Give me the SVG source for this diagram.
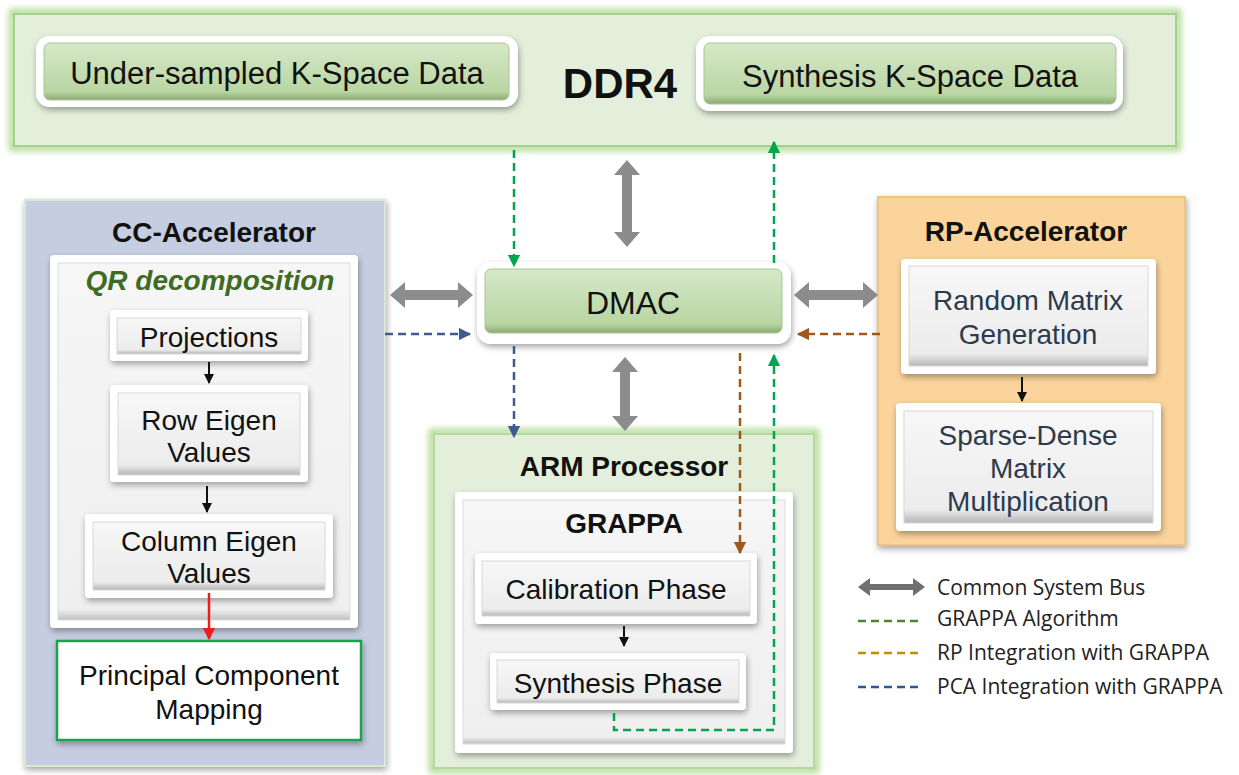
<svg xmlns="http://www.w3.org/2000/svg" width="1239" height="775" viewBox="0 0 1239 775">
<defs>
<filter id="glow" x="-5%" y="-10%" width="110%" height="120%"><feGaussianBlur stdDeviation="3"/></filter>
<filter id="shadow" x="-10%" y="-10%" width="120%" height="130%"><feDropShadow dx="1" dy="3" stdDeviation="3" flood-color="#000" flood-opacity="0.35"/></filter>
<linearGradient id="gbtn" x1="0" y1="0" x2="0" y2="1"><stop offset="0" stop-color="#d6e8c8"/><stop offset="0.85" stop-color="#b9d6a3"/><stop offset="1" stop-color="#8aab74"/></linearGradient>
<linearGradient id="wbtn" x1="0" y1="0" x2="0" y2="1"><stop offset="0" stop-color="#f7f7f7"/><stop offset="0.88" stop-color="#ececec"/><stop offset="1" stop-color="#b5b5b5"/></linearGradient>
<linearGradient id="wpanel" x1="0" y1="0" x2="0" y2="1"><stop offset="0" stop-color="#f6f6f6"/><stop offset="0.97" stop-color="#efefef"/><stop offset="1" stop-color="#c0c0c0"/></linearGradient>
<marker id="ah-green" viewBox="0 0 10 10" refX="9" refY="5" markerWidth="5" markerHeight="5" orient="auto"><path d="M0,0 L10,5 L0,10 z" fill="#00a64f"/></marker>
<marker id="ah-blue" viewBox="0 0 10 10" refX="9" refY="5" markerWidth="5" markerHeight="5" orient="auto"><path d="M0,0 L10,5 L0,10 z" fill="#3e5a8e"/></marker>
<marker id="ah-brown" viewBox="0 0 10 10" refX="9" refY="5" markerWidth="5" markerHeight="5" orient="auto"><path d="M0,0 L10,5 L0,10 z" fill="#a0581a"/></marker>
<marker id="ah-black" viewBox="0 0 10 10" refX="9" refY="5" markerWidth="5" markerHeight="5" orient="auto"><path d="M0,0 L10,5 L0,10 z" fill="#111"/></marker>
<marker id="ah-red" viewBox="0 0 10 10" refX="9" refY="5" markerWidth="5" markerHeight="5" orient="auto"><path d="M0,0 L10,5 L0,10 z" fill="#ee1c1c"/></marker>
<style>
text{font-family:"Liberation Sans",Arial,sans-serif;fill:#111;text-anchor:middle}
.ttl{font-weight:bold;font-size:28px}
.lbl{font-size:28px}
.dk{fill:#2e3a4c}
.leg{font-family:"Open Sans","Noto Sans",sans-serif;font-size:21px;text-anchor:start;fill:#222}
.wout{fill:#fff;filter:url(#shadow)}
.gin{fill:url(#gbtn);stroke:#a6c592;stroke-width:1}
.win{fill:url(#wbtn);stroke:#d8d8d8;stroke-width:1}
.dash{fill:none;stroke-width:2.5;stroke-dasharray:8,5}
.bus{fill:#8c8c8c}
</style>
</defs>

<!-- DDR4 -->
<g id="ddr4">
<rect x="12" y="12" width="1166" height="136" fill="none" stroke="#a9d98a" stroke-width="6" filter="url(#glow)"/>
<rect x="14" y="14" width="1162" height="132" fill="#e3efdb" stroke="#a3d08a" stroke-width="2"/>
<text x="620" y="98" font-weight="bold" font-size="42">DDR4</text>
</g>
<g id="undersampled">
<rect x="36" y="36" width="482" height="71" rx="14" class="wout"/>
<rect x="44" y="43" width="465" height="57" rx="6" class="gin"/>
<text x="277" y="84" font-size="31">Under-sampled K-Space Data</text>
</g>
<g id="synthesis-data">
<rect x="696" y="36" width="427" height="75" rx="14" class="wout"/>
<rect x="704" y="43" width="412" height="61" rx="6" class="gin"/>
<text x="910" y="87" font-size="31">Synthesis K-Space Data</text>
</g>

<!-- CC-Accelerator -->
<g id="cc-accelerator">
<rect x="25" y="200" width="360" height="566" fill="#c5cee0" stroke="#dbe6d3" stroke-width="2" filter="url(#shadow)"/>
<text x="214" y="242" class="ttl">CC-Accelerator</text>
</g>
<g id="qr">
<rect x="50" y="255" width="308" height="373" rx="4" class="wout"/>
<rect x="58" y="263" width="292" height="357" fill="url(#wpanel)" stroke="#dcdcdc"/>
<text x="210" y="290" font-size="28" font-weight="bold" font-style="italic" style="fill:#3f6b25">QR decomposition</text>
</g>
<g id="projections">
<rect x="110" y="310" width="198" height="51" rx="4" class="wout"/>
<rect x="117" y="318" width="184" height="36" class="win"/>
<text x="209" y="347" class="lbl">Projections</text>
</g>
<g id="row-eigen">
<rect x="110" y="385" width="198" height="97" rx="4" class="wout"/>
<rect x="118" y="393" width="182" height="82" class="win"/>
<text x="209" y="430" class="lbl">Row Eigen</text>
<text x="209" y="462" class="lbl">Values</text>
</g>
<g id="column-eigen">
<rect x="85" y="514" width="248" height="84" rx="4" class="wout"/>
<rect x="93" y="522" width="232" height="68" class="win"/>
<text x="209" y="551" class="lbl">Column Eigen</text>
<text x="209" y="583" class="lbl">Values</text>
</g>
<g id="pcm">
<rect x="57" y="641" width="304" height="99" fill="#fff" stroke="#1aa152" stroke-width="2.5" filter="url(#shadow)"/>
<text x="209" y="685" class="lbl">Principal Component</text>
<text x="209" y="719" class="lbl">Mapping</text>
</g>

<!-- DMAC -->
<g id="dmac">
<rect x="477" y="262" width="314" height="82" rx="14" class="wout"/>
<rect x="485" y="269" width="297" height="64" rx="6" class="gin"/>
<text x="633" y="314" font-size="32">DMAC</text>
</g>

<!-- ARM Processor -->
<g id="arm">
<rect x="432" y="432" width="384" height="338" fill="none" stroke="#a9d98a" stroke-width="6" filter="url(#glow)"/>
<rect x="434" y="434" width="380" height="334" fill="#e3efdb" stroke="#b3d99c" stroke-width="2"/>
<text x="624" y="476" class="ttl">ARM Processor</text>
</g>
<g id="grappa">
<rect x="455" y="492" width="338" height="261" rx="4" class="wout"/>
<rect x="463" y="500" width="322" height="244" fill="url(#wpanel)" stroke="#dcdcdc"/>
<text x="624" y="533" class="ttl">GRAPPA</text>
</g>
<g id="calibration">
<rect x="475" y="553" width="282" height="71" rx="4" class="wout"/>
<rect x="482" y="561" width="268" height="55" class="win"/>
<text x="616" y="599" class="lbl">Calibration Phase</text>
</g>
<g id="synthesis-phase">
<rect x="490" y="653" width="256" height="57" rx="4" class="wout"/>
<rect x="497" y="660" width="242" height="43" class="win"/>
<text x="618" y="693" class="lbl">Synthesis Phase</text>
</g>

<!-- RP-Accelerator -->
<g id="rp-accelerator">
<rect x="878" y="197" width="307" height="348" fill="#fbd49c" stroke="#f5c27a" stroke-width="2" filter="url(#shadow)"/>
<text x="1026" y="241" class="ttl">RP-Accelerator</text>
</g>
<g id="random-matrix">
<rect x="901" y="259" width="255" height="115" rx="4" class="wout"/>
<rect x="909" y="266" width="239" height="100" class="win"/>
<text x="1028" y="310" class="lbl dk">Random Matrix</text>
<text x="1028" y="344" class="lbl dk">Generation</text>
</g>
<g id="sparse-dense">
<rect x="896" y="403" width="265" height="128" rx="4" class="wout"/>
<rect x="904" y="411" width="249" height="112" class="win"/>
<text x="1028" y="445" class="lbl dk">Sparse-Dense</text>
<text x="1028" y="478" class="lbl dk">Matrix</text>
<text x="1028" y="511" class="lbl dk">Multiplication</text>
</g>

<!-- Connectors -->
<g id="connectors">
<path class="bus" d="M627,160 L640,175 L632,175 L632,232 L640,232 L627,247 L614,232 L622,232 L622,175 L614,175 Z"/>
<path class="bus" d="M625,357 L638,372 L630,372 L630,416 L638,416 L625,431 L612,416 L620,416 L620,372 L612,372 Z"/>
<path class="bus" d="M390,295 L405,282 L405,290 L458,290 L458,282 L473,295 L458,308 L458,300 L405,300 L405,308 Z"/>
<path class="bus" d="M794,295 L809,282 L809,290 L863,290 L863,282 L878,295 L863,308 L863,300 L809,300 L809,308 Z"/>
<line x1="209" y1="362" x2="209" y2="383" stroke="#111" stroke-width="2" marker-end="url(#ah-black)"/>
<line x1="207" y1="486" x2="207" y2="512" stroke="#111" stroke-width="2" marker-end="url(#ah-black)"/>
<line x1="209" y1="593" x2="209" y2="639" stroke="#ee1c1c" stroke-width="2.5" marker-end="url(#ah-red)"/>
<line x1="624" y1="626" x2="624" y2="646" stroke="#111" stroke-width="2" marker-end="url(#ah-black)"/>
<line x1="1022" y1="377" x2="1022" y2="401" stroke="#111" stroke-width="2" marker-end="url(#ah-black)"/>
<path class="dash" stroke="#00a64f" d="M514,150 L514,266" marker-end="url(#ah-green)"/>
<path class="dash" stroke="#00a64f" d="M774,263 L774,142" marker-end="url(#ah-green)"/>
<path class="dash" stroke="#00a64f" d="M614,713 L614,730 L774,730 L774,355" marker-end="url(#ah-green)"/>
<path class="dash" stroke="#3e5a8e" d="M385,334 L470,334" marker-end="url(#ah-blue)"/>
<path class="dash" stroke="#3e5a8e" d="M514,346 L514,437" marker-end="url(#ah-blue)"/>
<path class="dash" stroke="#a0581a" d="M880,334 L798,334" marker-end="url(#ah-brown)"/>
<path class="dash" stroke="#a0581a" d="M740,353 L740,553" marker-end="url(#ah-brown)"/>
</g>

<!-- Legend -->
<g id="legend">
<path d="M858,587 L870,578 L870,584 L913,584 L913,578 L925,587 L913,596 L913,590 L870,590 L870,596 Z" fill="#707070"/>
<text x="937" y="595" class="leg">Common System Bus</text>
<line x1="858" y1="621" x2="918" y2="621" stroke="#548235" stroke-width="2.5" stroke-dasharray="8,5"/>
<text x="937" y="626" class="leg">GRAPPA Algorithm</text>
<line x1="858" y1="653" x2="918" y2="653" stroke="#bf9000" stroke-width="2.5" stroke-dasharray="8,5"/>
<text x="937" y="660" class="leg">RP Integration with GRAPPA</text>
<line x1="858" y1="687" x2="918" y2="687" stroke="#2f5597" stroke-width="2.5" stroke-dasharray="8,5"/>
<text x="937" y="694" class="leg">PCA Integration with GRAPPA</text>
</g>
</svg>
